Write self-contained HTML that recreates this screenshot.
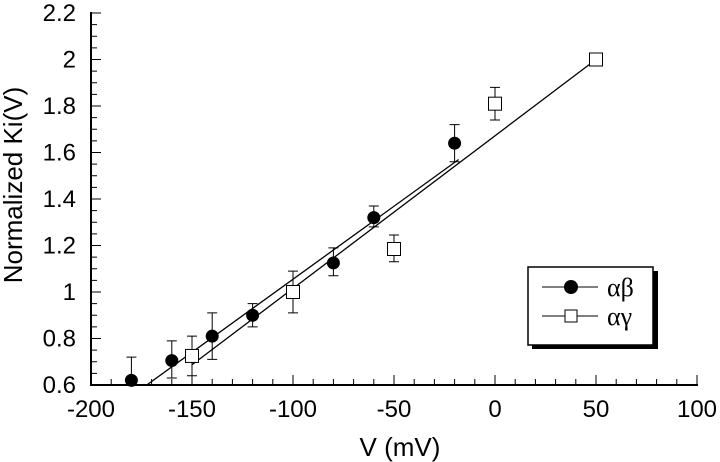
<!DOCTYPE html>
<html><head><meta charset="utf-8"><style>
body{margin:0;background:#fff}
svg{display:block;font-family:"Liberation Sans",sans-serif}
</style></head><body>
<svg id="c" width="720" height="462">
<text transform="translate(22,185) rotate(-90)" text-anchor="middle" font-size="26">Normalized Ki(V)</text>
<text x="400" y="456" text-anchor="middle" font-size="26">V (mV)</text>
<g>
<rect x="532" y="271" width="126" height="78" fill="#000"/>
<rect x="528" y="267" width="125" height="78" fill="#fff" stroke="#000" stroke-width="1.5"/>
<line x1="542" y1="287" x2="598" y2="287" stroke="#000"/>
<circle cx="571" cy="287" r="7" fill="#000"/>
<text x="607" y="296" font-family="Liberation Serif,serif" font-size="26">αβ</text>
<line x1="542" y1="316" x2="598" y2="316" stroke="#000"/>
<rect x="565" y="310" width="12" height="12" fill="#fff" stroke="#000"/>
<text x="607" y="325" font-family="Liberation Serif,serif" font-size="26">αγ</text>
</g>
</svg>
<script>
const abV=[-180,-160,-140,-120,-80,-60,-20];
const abY=[0.62,0.705,0.81,0.90,1.125,1.32,1.64];
const abHi=[0.72,0.79,0.91,0.95,1.19,1.37,1.72];
const abLo=[0.60,0.63,0.71,0.85,1.07,1.28,1.56];
const agV=[-150,-100,-50,0,50];
const agY=[0.725,1.0,1.185,1.81,2.0];
const agHi=[0.81,1.09,1.245,1.88,2.0];
const agLo=[0.64,0.91,1.13,1.74,2.0];
const abFit=[[-172.4,0.6],[-18,1.57]];
const agFit=[[-150,0.687],[50,2.0]];
const xTicks=[-200,-150,-100,-50,0,50,100];
const yTicks=[0.6,0.8,1,1.2,1.4,1.6,1.8,2,2.2];
const yLabels=["0.6","0.8","1","1.2","1.4","1.6","1.8","2","2.2"];
const X=v=>91+(v+200)*606/300;
const Y=v=>385-(v-0.6)*372/1.6;
const s=document.getElementById('c');const NS='http://www.w3.org/2000/svg';
function mk(t,a){const e=document.createElementNS(NS,t);for(const k in a)e.setAttribute(k,a[k]);s.appendChild(e);return e;}
let e;
e=mk('line',{x1:91,y1:385,x2:698,y2:385,stroke:'#000','stroke-width':2});


e=mk('line',{x1:91,y1:12,x2:91,y2:386,stroke:'#000','stroke-width':2});


for(let v=-190;v<=100;v+=10){const maj=v%50===0;
e=mk('line',{x1:X(v),y1:385,x2:X(v),y2:maj?375:379,stroke:'#000'});

}
for(let v=0.65;v<=2.21;v+=0.05){const maj=Math.abs(v*5-Math.round(v*5))<1e-6;
e=mk('line',{x1:91,y1:Y(v),x2:maj?101:97,y2:Y(v),stroke:'#000'});

}
xTicks.forEach(v=>{e=mk('text',{x:X(v),y:417,'text-anchor':'middle','font-size':24});e.textContent=String(v);

});
yTicks.forEach((v,i)=>{e=mk('text',{x:76,y:Y(v)+8,'text-anchor':'end','font-size':24});e.textContent=yLabels[i];

});
[abFit,agFit].forEach((f,i)=>{e=mk('line',{x1:X(f[0][0]),y1:Y(f[0][1]),x2:X(f[1][0]),y2:Y(f[1][1]),stroke:'#000','stroke-width':1.3});

});
function err(v,hi,lo){const x=X(v);
e=mk('path',{d:`M${x},${Y(hi)}V${Y(lo)}M${x-5},${Y(hi)}h10M${x-5},${Y(lo)}h10`,stroke:'#000',fill:'none'});

}
abV.forEach((v,i)=>{err(v,abHi[i],abLo[i]);
e=mk('circle',{cx:X(v),cy:Y(abY[i]),r:6.5,fill:'#000'});

});
agV.forEach((v,i)=>{err(v,agHi[i],agLo[i]);
e=mk('rect',{x:X(v)-6.5,y:Y(agY[i])-6.5,width:13,height:13,fill:'#fff',stroke:'#000'});

});
</script>
</body></html>
